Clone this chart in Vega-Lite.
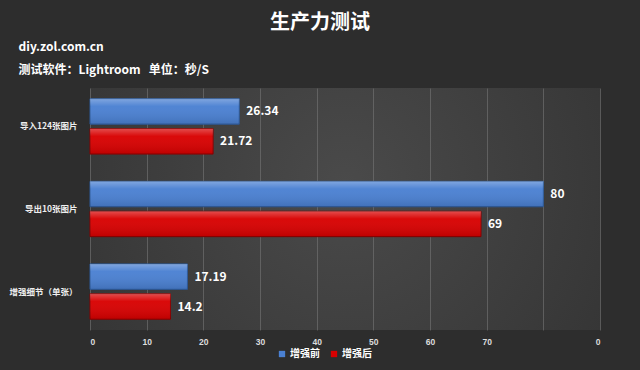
{
  "$schema": "https://vega.github.io/schema/vega-lite/v6.json",
  "width": 510,
  "height": 242,
  "autosize": {"type": "none"},
  "padding": {"left": 90, "top": 88, "right": 40, "bottom": 40},
  "background": "#2d2d2d",
  "title": {
    "text": "生产力测试",
    "color": "#ffffff",
    "fontSize": 20,
    "fontWeight": "bold",
    "font": "Noto Sans CJK SC",
    "anchor": "middle",
    "dx": -25,
    "baseline": "middle",
    "offset": -3
  },
  "data": {
    "values": [
      {"category": "导入124张图片", "series": "增强前", "value": 26.34},
      {"category": "导入124张图片", "series": "增强后", "value": 21.72},
      {"category": "导出10张图片", "series": "增强前", "value": 80},
      {"category": "导出10张图片", "series": "增强后", "value": 69},
      {"category": "增强细节（单张）", "series": "增强前", "value": 17.19},
      {"category": "增强细节（单张）", "series": "增强后", "value": 14.2}
    ]
  },
  "encoding": {
    "y": {
      "field": "category",
      "type": "nominal",
      "sort": null,
      "scale": {"paddingInner": 0.33, "paddingOuter": 0.13},
      "axis": {
        "title": ["diy.zol.com.cn", "测试软件：Lightroom\u00a0\u00a0\u00a0单位：秒/S"],
        "titleAngle": 0,
        "titleAlign": "left",
        "titleBaseline": "top",
        "titleX": -72,
        "titleY": -47,
        "titleColor": "#ffffff",
        "titleFontSize": 12,
        "titleFontWeight": "bold",
        "titleFont": "Noto Sans CJK SC",
        "titleLineHeight": 23,
        "domain": false,
        "ticks": false,
        "labelColor": "#eeeeee",
        "labelFontSize": 8.5,
        "labelFontWeight": "bold",
        "labelFont": "Noto Sans CJK SC",
        "labelPadding": 13
      }
    },
    "yOffset": {
      "field": "series",
      "type": "nominal",
      "sort": ["增强前", "增强后"],
      "scale": {"paddingInner": 0.15}
    },
    "x": {
      "field": "value",
      "type": "quantitative",
      "scale": {"domain": [0, 90], "nice": false},
      "axis": {
        "title": null,
        "values": [0, 10, 20, 30, 40, 50, 60, 70, 80, 90],
        "labelExpr": "datum.value == 80 ? '' : datum.value == 90 ? '0' : datum.label",
        "domain": false,
        "ticks": false,
        "grid": true,
        "gridColor": "#777777",
        "gridOpacity": 0.6,
        "labelColor": "#dddddd",
        "labelFontSize": 8.5,
        "labelFontWeight": "bold",
        "labelPadding": 7
      }
    }
  },
  "layer": [
    {
      "mark": {"type": "bar", "strokeWidth": 1},
      "encoding": {
        "color": {
          "field": "series",
          "type": "nominal",
          "sort": ["增强前", "增强后"],
          "scale": {"domain": ["增强前", "增强后"], "range": ["#4a80d2", "#d80000"]},
          "legend": {
            "title": null,
            "orient": "none",
            "direction": "horizontal",
            "legendX": 187,
            "legendY": 261,
            "symbolType": "square",
            "symbolSize": 40,
            "symbolStrokeWidth": 0,
            "labelColor": "#ffffff",
            "labelFontSize": 10,
            "labelFontWeight": "bold",
            "labelFont": "Noto Sans CJK SC",
            "columnPadding": 9,
            "labelOffset": 3
          }
        },
        "stroke": {
          "field": "series",
          "type": "nominal",
          "scale": {"domain": ["增强前", "增强后"], "range": ["#2c5a9a", "#8a0000"]},
          "legend": null
        }
      }
    },
    {
      "mark": {
        "type": "bar",
        "fill": {
          "gradient": "linear",
          "x1": 0, "y1": 0, "x2": 0, "y2": 1,
          "stops": [
            {"offset": 0, "color": "rgba(255,255,255,0.3)"},
            {"offset": 0.3, "color": "rgba(255,255,255,0.04)"},
            {"offset": 1, "color": "rgba(0,0,0,0.12)"}
          ]
        }
      },
      "encoding": {}
    },
    {
      "mark": {
        "type": "text",
        "align": "left",
        "baseline": "middle",
        "dx": 7,
        "color": "#ffffff",
        "fontSize": 12,
        "fontWeight": "bold",
        "font": "Noto Sans CJK SC"
      },
      "encoding": {"text": {"field": "value", "type": "quantitative"}}
    }
  ],
  "config": {
    "view": {
      "stroke": null,
      "fill": {
        "gradient": "radial",
        "x1": 0.5, "y1": 0.45, "r1": 0,
        "x2": 0.5, "y2": 0.45, "r2": 0.75,
        "stops": [
          {"offset": 0, "color": "#4a4a4a"},
          {"offset": 1, "color": "#303030"}
        ]
      }
    }
  }
}
